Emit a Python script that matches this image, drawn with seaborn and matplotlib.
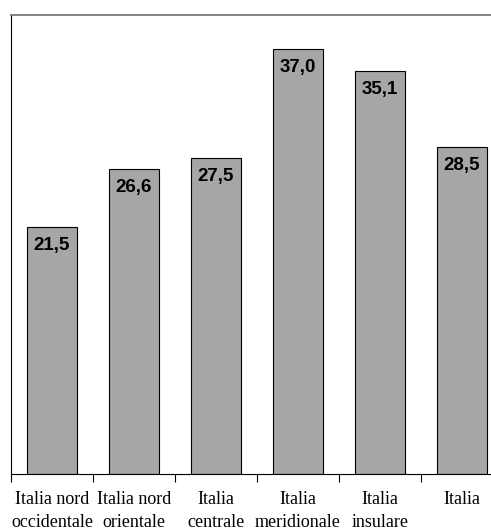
import numpy as np
import pandas as pd
import matplotlib.pyplot as plt
import seaborn as sns

# data
regions = ["Italia nord\noccidentale", "Italia nord\norientale", "Italia\ncentrale",
           "Italia\nmeridionale", "Italia\ninsulare", "Italia"]
values = [21.5, 26.6, 27.5, 37.0, 35.1, 28.5]
value_labels = ["21,5", "26,6", "27,5", "37,0", "35,1", "28,5"]

df = pd.DataFrame({"Area": regions, "Valore": values})

sns.set_style("white")
plt.rcParams["text.color"] = "black"
plt.rcParams["xtick.color"] = "black"

fig = plt.figure(figsize=(4.91, 5.32), dpi=100)
# plot area runs off the right edge, like the original
ax = fig.add_axes([11/491, 58/532, 492/491, 459/532])

sns.barplot(data=df, x="Area", y="Valore", color="#A6A6A6", width=0.6,
            edgecolor="black", linewidth=0.8, saturation=1, ax=ax)

ax.set_ylim(0, 40)
ax.set_xlim(-0.5, 5.5)
ax.set_yticks([])
ax.set_xlabel("")
ax.set_ylabel("")

# value labels inside the bars
for i, v in enumerate(values):
    ax.text(i, v - 1.6, value_labels[i], ha="center", va="center", color="black",
            fontsize=13.5, fontweight="bold", family="Liberation Sans")

# category labels centred, tick marks between bars
ax.set_xticks(range(len(regions)))
ax.set_xticklabels(regions, family="Liberation Serif", fontsize=13, linespacing=1.45)
ax.tick_params(axis="x", which="major", bottom=True, length=0, pad=12, labelcolor="black")
ax.set_xticks(np.arange(-0.5, 6, 1), minor=True)
ax.tick_params(axis="x", which="minor", bottom=True, length=6, width=0.8, color="black", direction="out")

for s in ["left", "bottom"]:
    ax.spines[s].set_color("black")
    ax.spines[s].set_linewidth(0.8)
for s in ["top", "right"]:
    ax.spines[s].set_color("#6E6E6E")
    ax.spines[s].set_linewidth(1.2)

plt.savefig("out.png", dpi=100)
